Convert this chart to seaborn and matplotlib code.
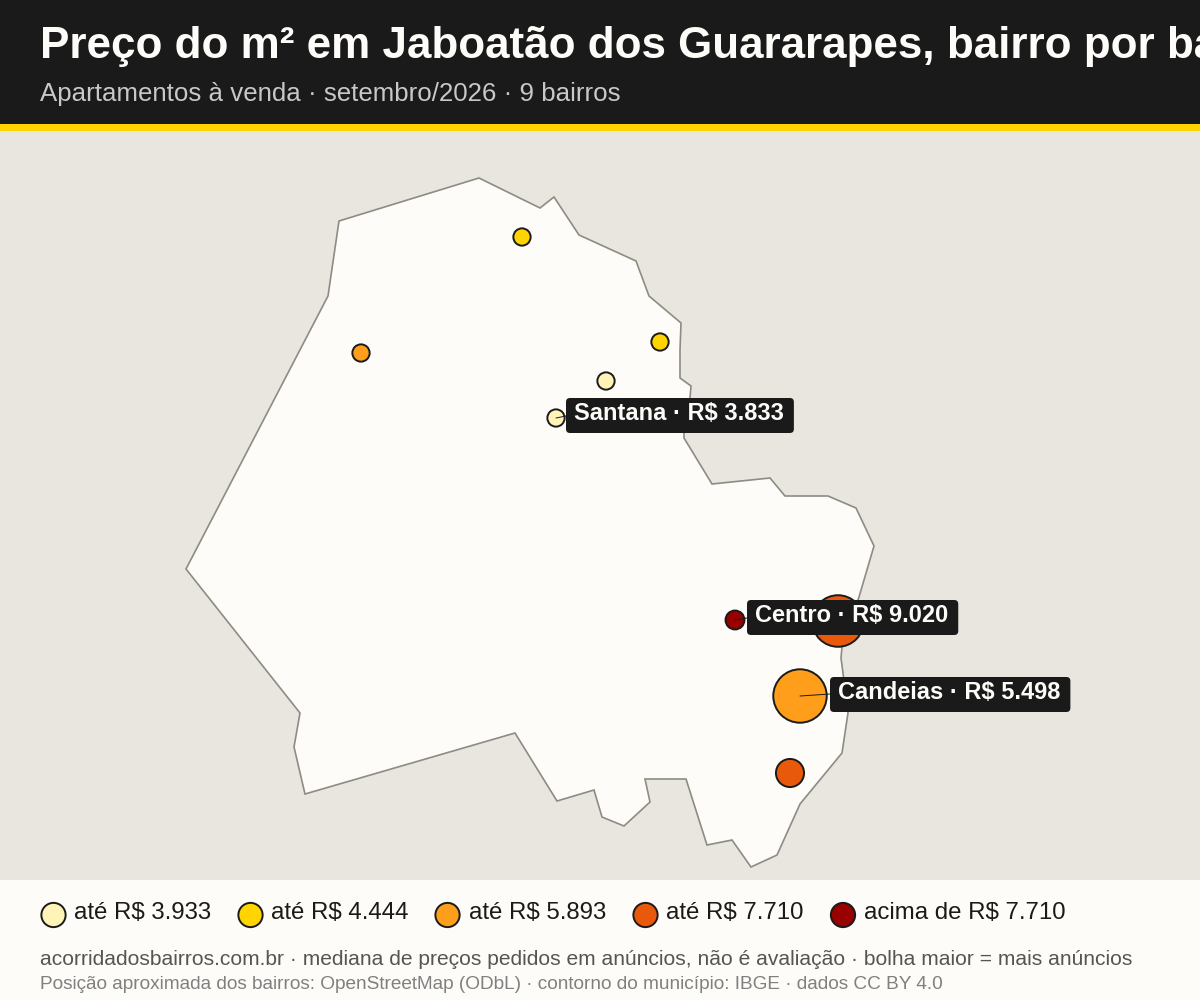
"""
plot.py
Preco do m2 em Jaboatao dos Guararapes: bolhas por bairro sobre o contorno do municipio.
Coordenadas do mapa lidas da imagem, eixo em pixels (y para baixo).
"""

import matplotlib
matplotlib.use("Agg")
import matplotlib.pyplot as plt
from matplotlib.patches import FancyBboxPatch, Polygon, Rectangle
import pandas as pd
import seaborn as sns

# ---------- contorno do municipio ----------
contorno_x = [479, 540, 554, 579, 636, 649, 681, 680, 680, 691, 690, 684, 684, 712, 770, 785, 828, 856, 874, 859,
              842, 841, 843, 848, 842, 800, 777, 751, 732, 707, 686, 645, 650, 624, 602, 594, 557, 515,
              305, 294, 300, 186, 328, 339]
contorno_y = [178, 208, 197, 235, 261, 296, 323, 350, 378, 386, 398, 430, 438, 484, 478, 496, 496, 508, 546, 597,
              647, 658, 673, 713, 753, 804, 855, 867, 840, 845, 779, 779, 802, 826, 817, 790, 801, 733,
              794, 747, 713, 569, 296, 221]

# ---------- bairros (precos sem rotulo sao estimados dentro da faixa) ----------
bairros = ["Santana", "B2", "B3", "B4", "B5", "Centro", "B7", "Candeias", "B9"]
bairro_x = [556, 606, 522, 660, 361, 735, 838, 800, 790]
bairro_y = [418, 381, 237, 342, 353, 620, 621, 696, 773]
precos = [3833, 3900, 4200, 4300, 5200, 9020, 6800, 5498, 6500]
anuncios = [30, 30, 30, 30, 30, 36, 270, 290, 80]
faixas = ["f1", "f1", "f2", "f2", "f3", "f5", "f4", "f3", "f4"]

rotulos = ["Santana · R$ 3.833", "Centro · R$ 9.020", "Candeias · R$ 5.498"]
rotulo_bairro = ["Santana", "Centro", "Candeias"]
rotulo_x = [574, 755, 838]
rotulo_y = [420, 622, 699]

# ---------- legenda ----------
faixa_ids = ["f1", "f2", "f3", "f4", "f5"]
faixa_cores = ["#FFF3B8", "#FFD400", "#FF9E1B", "#E8590C", "#990000"]
faixa_textos = ["até R$ 3.933", "até R$ 4.444", "até R$ 5.893", "até R$ 7.710", "acima de R$ 7.710"]
legenda_x = [53.5, 250.5, 447.5, 645.5, 843]
legenda_texto_x = [74, 271, 469, 666, 864]

TITULO = "Preço do m² em Jaboatão dos Guararapes, bairro por bairro"
SUBTITULO = "Apartamentos à venda · setembro/2026 · 9 bairros"
NOTA1 = "acorridadosbairros.com.br · mediana de preços pedidos em anúncios, não é avaliação · bolha maior = mais anúncios"
NOTA2 = "Posição aproximada dos bairros: OpenStreetMap (ODbL) · contorno do município: IBGE · dados CC BY 4.0"

ESCURO = "#1A1A1A"
FUNDO_MAPA = "#E9E6E0"
CLARO = "#FDFCF8"

sns.set_theme(style="white")
plt.rcParams["font.family"] = ["Liberation Sans", "DejaVu Sans"]

df = pd.DataFrame({"bairro": bairros, "x": bairro_x, "y": bairro_y, "preco": precos,
                   "anuncios": anuncios, "faixa": faixas})
df_legenda = pd.DataFrame({"x": legenda_x, "y": [915] * 5, "faixa": faixa_ids})
paleta = dict(zip(faixa_ids, faixa_cores))

fig = plt.figure(figsize=(12, 10), dpi=100, facecolor=CLARO)
ax = fig.add_axes([0, 0, 1, 1])
ax.axis("off")

# faixas de fundo
ax.add_patch(Rectangle((0, 131), 1200, 749, color=FUNDO_MAPA, lw=0, zorder=0))
ax.add_patch(Rectangle((0, 0), 1200, 124, color=ESCURO, lw=0, zorder=0))
ax.add_patch(Rectangle((0, 124), 1200, 7, color="#FFD400", lw=0, zorder=0))

# municipio
ax.add_patch(Polygon(list(zip(contorno_x, contorno_y)), closed=True, facecolor=CLARO,
                     edgecolor="#8E8B83", lw=1.2, joinstyle="miter", zorder=1))

# bolhas
sns.scatterplot(data=df, x="x", y="y", hue="faixa", palette=paleta,
                size="anuncios", sizes=(155, 1480), size_norm=(30, 290),
                edgecolor=ESCURO, linewidth=1.4, legend=False, zorder=3, clip_on=False, ax=ax)

# legenda manual com os mesmos marcadores
sns.scatterplot(data=df_legenda, x="x", y="y", hue="faixa", palette=paleta, s=305,
                edgecolor=ESCURO, linewidth=1.4, legend=False, zorder=3, clip_on=False, ax=ax)

ax.set_xlim(0, 1200)
ax.set_ylim(1000, 0)

for tx, texto in zip(legenda_texto_x, faixa_textos):
    ax.text(tx, 919, texto, color=ESCURO, fontsize=17.28, ha="left", va="baseline")

# rotulos com linha de chamada
renderer = fig.canvas.get_renderer()
for nome, texto, tx, ty in zip(rotulo_bairro, rotulos, rotulo_x, rotulo_y):
    linha = df[df["bairro"] == nome].iloc[0]
    rotulo = ax.text(tx, ty, texto, color=CLARO, fontsize=17.05, fontweight="bold",
                     ha="left", va="baseline", zorder=6)
    largura = rotulo.get_window_extent(renderer).width
    ax.add_patch(FancyBboxPatch((tx - 8, ty - 22), largura + 18, 35,
                                boxstyle="round,pad=0,rounding_size=4",
                                facecolor=ESCURO, edgecolor="none", zorder=5))
    ax.plot([linha["x"], tx - 8], [linha["y"], linha["y"] - 2], color=ESCURO, lw=0.7, zorder=4)

# textos
ax.text(40, 58, TITULO, color=CLARO, fontsize=31.65, fontweight="bold", ha="left", va="baseline")
ax.text(40, 101, SUBTITULO, color="#C8C8C8", fontsize=18.6, ha="left", va="baseline")
ax.text(40, 965, NOTA1, color="#555555", fontsize=15.12, ha="left", va="baseline")
ax.text(40, 989, NOTA2, color="#808080", fontsize=13.67, ha="left", va="baseline")

fig.savefig("out.png", dpi=100, facecolor=fig.get_facecolor())
plt.close(fig)
